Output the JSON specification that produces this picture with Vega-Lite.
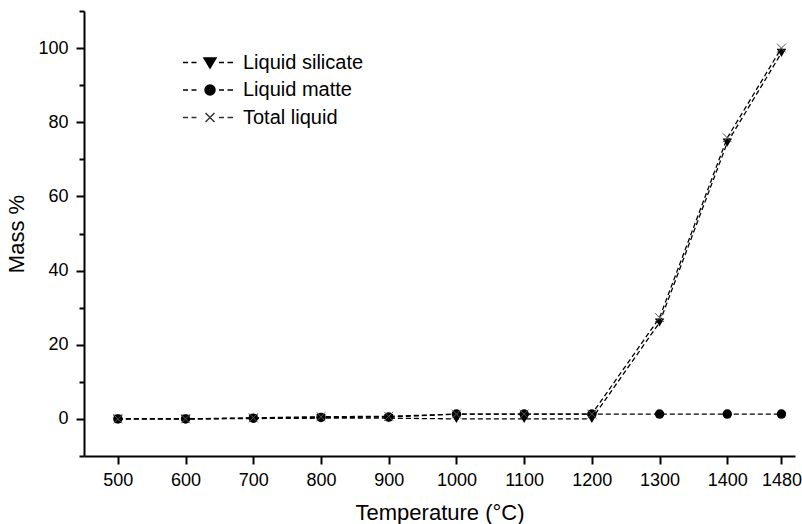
{
  "$schema": "https://vega.github.io/schema/vega-lite/v6.json",
  "width": 711,
  "height": 445,
  "autosize": "none",
  "padding": {"left": 84, "top": 11, "right": 7, "bottom": 68},
  "background": "white",
  "config": {
    "view": {"stroke": null},
    "font": "Liberation Sans",
    "axis": {
      "grid": false,
      "domainColor": "black",
      "domainWidth": 2,
      "tickColor": "black",
      "tickWidth": 2,
      "labelColor": "black",
      "titleColor": "black",
      "labelFont": "Liberation Sans",
      "titleFont": "Liberation Sans",
      "labelFontSize": 18,
      "titleFontSize": 22,
      "titleFontWeight": "normal"
    }
  },
  "data": {
    "values": [
      {"T": 500, "series": "Liquid silicate", "v": 0},
      {"T": 600, "series": "Liquid silicate", "v": 0},
      {"T": 700, "series": "Liquid silicate", "v": 0.1},
      {"T": 800, "series": "Liquid silicate", "v": 0.2},
      {"T": 900, "series": "Liquid silicate", "v": 0.2},
      {"T": 1000, "series": "Liquid silicate", "v": 0},
      {"T": 1100, "series": "Liquid silicate", "v": 0},
      {"T": 1200, "series": "Liquid silicate", "v": 0},
      {"T": 1300, "series": "Liquid silicate", "v": 26},
      {"T": 1400, "series": "Liquid silicate", "v": 74.5},
      {"T": 1480, "series": "Liquid silicate", "v": 98.7},
      {"T": 500, "series": "Liquid matte", "v": 0},
      {"T": 600, "series": "Liquid matte", "v": 0},
      {"T": 700, "series": "Liquid matte", "v": 0.2},
      {"T": 800, "series": "Liquid matte", "v": 0.4},
      {"T": 900, "series": "Liquid matte", "v": 0.5},
      {"T": 1000, "series": "Liquid matte", "v": 1.3},
      {"T": 1100, "series": "Liquid matte", "v": 1.3},
      {"T": 1200, "series": "Liquid matte", "v": 1.3},
      {"T": 1300, "series": "Liquid matte", "v": 1.3},
      {"T": 1400, "series": "Liquid matte", "v": 1.3},
      {"T": 1480, "series": "Liquid matte", "v": 1.3},
      {"T": 500, "series": "Total liquid", "v": 0},
      {"T": 600, "series": "Total liquid", "v": 0},
      {"T": 700, "series": "Total liquid", "v": 0.3},
      {"T": 800, "series": "Total liquid", "v": 0.6},
      {"T": 900, "series": "Total liquid", "v": 0.7},
      {"T": 1000, "series": "Total liquid", "v": 1.3},
      {"T": 1100, "series": "Total liquid", "v": 1.3},
      {"T": 1200, "series": "Total liquid", "v": 1.3},
      {"T": 1300, "series": "Total liquid", "v": 27.3},
      {"T": 1400, "series": "Total liquid", "v": 75.8},
      {"T": 1480, "series": "Total liquid", "v": 100}
    ]
  },
  "encoding": {
    "x": {
      "field": "T",
      "type": "quantitative",
      "scale": {"domain": [450, 1500], "nice": false, "zero": false},
      "axis": {
        "values": [500, 600, 700, 800, 900, 1000, 1100, 1200, 1300, 1400, 1480],
        "format": "d",
        "title": "Temperature (°C)",
        "tickSize": 8,
        "labelPadding": 7,
        "titlePadding": 13,
        "labelFlush": false,
        "labelOverlap": false
      }
    },
    "y": {
      "field": "v",
      "type": "quantitative",
      "scale": {"domain": [-10, 110], "nice": false, "zero": false},
      "axis": {
        "values": [-10, 0, 10, 20, 30, 40, 50, 60, 70, 80, 90, 100, 110],
        "labelExpr": "datum.value % 20 === 0 ? datum.label : ''",
        "tickSize": {"condition": {"test": "datum.value % 20 === 0", "value": 8}, "value": 5},
        "labelPadding": 8,
        "title": "Mass %",
        "titlePadding": 9
      }
    }
  },
  "layer": [
    {
      "mark": {"type": "line", "strokeDash": [5, 3], "strokeWidth": 1.3, "color": "black"},
      "encoding": {"detail": {"field": "series"}}
    },
    {
      "transform": [{"filter": "datum.series === 'Liquid silicate'"}],
      "mark": {"type": "point", "shape": "triangle-down", "size": 90, "filled": true, "color": "black", "opacity": 1}
    },
    {
      "transform": [{"filter": "datum.series === 'Liquid matte'"}],
      "mark": {"type": "point", "shape": "circle", "size": 90, "filled": true, "color": "black", "opacity": 1}
    },
    {
      "transform": [{"filter": "datum.series === 'Total liquid'"}],
      "mark": {"type": "point", "shape": "M-1,-1L1,1M-1,1L1,-1", "size": 80, "filled": false, "stroke": "#555555", "strokeWidth": 1, "opacity": 1}
    },
    {
      "transform": [{"filter": "datum.v > 1000"}],
      "mark": {"type": "point", "size": 4, "strokeWidth": 1.2, "opacity": 1},
      "encoding": {
        "shape": {
          "field": "series",
          "type": "nominal",
          "scale": {
            "domain": ["Liquid silicate", "Liquid matte", "Total liquid"],
            "range": [
              "M-27,0H-22M-18.5,0H-13.5M-6,-4.5L6,-4.5L0,5.5ZM9,0H14M17.5,0H23",
              "M-27,0H-22M-18.5,0H-13.5M-5,0A5,5 0 1,1 5,0A5,5 0 1,1 -5,0ZM9,0H14M17.5,0H23",
              "M-27,0H-22M-18.5,0H-13.5M-4.5,-4.5L4.5,4.5M-4.5,4.5L4.5,-4.5M9,0H14M17.5,0H23"
            ]
          },
          "legend": {
            "orient": "none",
            "legendX": 89,
            "legendY": 41.5,
            "padding": 0,
            "title": null,
            "labelFontSize": 20,
            "labelFont": "Liberation Sans",
            "labelColor": "black",
            "symbolSize": 4,
            "symbolOffset": 27,
            "labelOffset": 23,
            "rowPadding": 7.5
          }
        },
        "fill": {
          "field": "series",
          "type": "nominal",
          "scale": {
            "domain": ["Liquid silicate", "Liquid matte", "Total liquid"],
            "range": ["black", "black", "transparent"]
          }
        },
        "stroke": {
          "field": "series",
          "type": "nominal",
          "scale": {
            "domain": ["Liquid silicate", "Liquid matte", "Total liquid"],
            "range": ["black", "black", "#333333"]
          }
        }
      }
    }
  ]
}
